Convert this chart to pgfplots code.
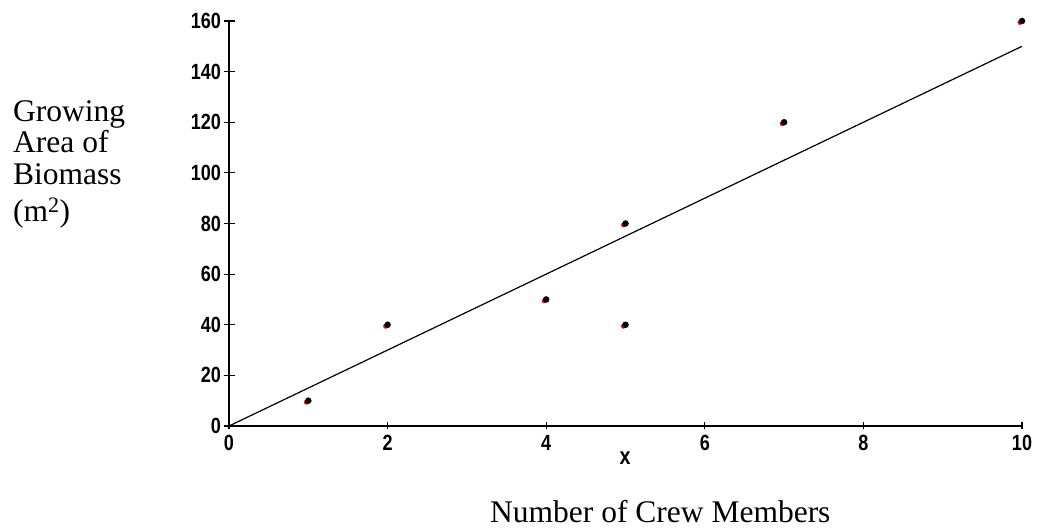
\documentclass[border=0pt]{standalone}
\usepackage{fontspec}
\setmainfont{Liberation Serif}
\newfontfamily\tickfont{Liberation Sans}[FakeStretch=0.82]
\usepackage{pgfplots}
\pgfplotsset{compat=1.18}
\begin{document}
\begin{tikzpicture}[x=1pt,y=1pt]
\path[use as bounding box] (0,0) rectangle (1039,529);
\begin{axis}[
  at={(229pt,103pt)}, anchor=origin,
  scale only axis, width=793pt, height=405pt,
  xmin=0, xmax=10, ymin=0, ymax=160,
  axis x line=bottom, axis y line=left,
  axis line style={-, line width=1.3pt},
  xtick={0,2,4,6,8,10}, ytick={0,20,...,160},
  tick align=center, major tick length=11pt,
  tick style={line width=1.2pt, black},
  xtick style={/pgfplots/major tick length=7pt},
  /pgf/number format/assume math mode=true,
  ticklabel style={font=\tickfont\bfseries\fontsize{22}{22}\selectfont},
  yticklabel style={xshift=1pt},
  xticklabel style={yshift=0pt},
  clip=false,
]
\addplot[black, line width=1.2pt] coordinates {(0,0) (10,150)};
\addplot[only marks, mark=*, mark size=2.2pt, red, every mark/.append style={xshift=-2pt, yshift=-1.5pt}]
  coordinates {(1,10) (2,40) (4,50) (5,80) (5,40) (7,120) (10,160)};
\addplot[only marks, mark=*, mark size=3pt, black]
  coordinates {(1,10) (2,40) (4,50) (5,80) (5,40) (7,120) (10,160)};
\end{axis}
\node[anchor=base west, inner sep=0, font=\fontsize{31.5}{31.5}\selectfont] at (13,407) {Growing};
\node[anchor=base west, inner sep=0, font=\fontsize{31.5}{31.5}\selectfont] at (13,376) {Area of};
\node[anchor=base west, inner sep=0, font=\fontsize{31.5}{31.5}\selectfont] at (13,344) {Biomass};
\node[anchor=base west, inner sep=0, font=\fontsize{31.5}{31.5}\selectfont] at (13,307) {(m\textsuperscript{2})};
\node[inner sep=0, font=\tickfont\bfseries\fontsize{24}{24}\selectfont] at (625,71) {x};
\node[anchor=base west, inner sep=0, font=\fontsize{31.5}{31.5}\selectfont] at (490,6) {Number of Crew Members};
\end{tikzpicture}
\end{document}
